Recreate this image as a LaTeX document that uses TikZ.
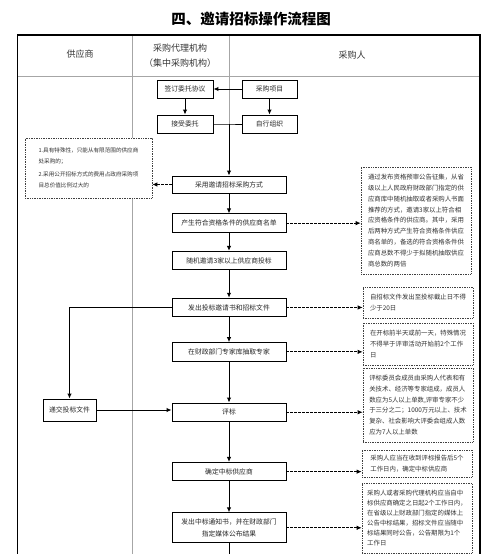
\documentclass[tikz,border=0pt]{standalone}
\usepackage{fontspec}
\setmainfont{Noto Sans CJK SC}
\usetikzlibrary{positioning}
\usetikzlibrary{arrows.meta}
\usetikzlibrary{calc}
\tikzset{%
	% Specifications for style of nodes:
	base/.style = {rectangle, draw=black, line width=0.9pt, fill=white,
		inner sep=2pt, text centered, text=black!85,
		font=\fontsize{6.8pt}{11.5pt}\selectfont},
	small/.style = {base, minimum width=56pt, minimum height=18pt},
	process/.style = {base, minimum width=114pt, minimum height=18.5pt},
	note/.style = {rectangle, draw=black!75, densely dotted, line width=0.7pt,
		fill=white, inner sep=3pt, align=left, minimum width=110pt,
		text=black!80, font=\fontsize{6.4pt}{10.8pt}\selectfont},
	head/.style = {font=\fontsize{9pt}{15pt}\selectfont, text=black!80},
	lane/.style = {draw=black!35, line width=0.8pt},
	frame/.style = {draw=black, line width=1.8pt},
	flow/.style = {->, line width=1pt},
	hint/.style = {->, dash pattern=on 2.5pt off 1.5pt, line width=0.8pt}
}
\begin{document}
\begin{tikzpicture}[x=1pt, y=-1pt, >={Latex[length=5pt,width=4.5pt]}, align=center]
		\clip (0,0) rectangle (500,554);
		\node (title) [font=\fontsize{14.5pt}{16pt}\selectfont\bfseries] at (251,18.5) {四、邀请招标操作流程图};
		% lanes and header
		\draw[lane] (17.5,76) -- (480,76);
		\draw[lane] (132,35) -- (132,560);
		\draw[lane] (229,35) -- (229,124);
		\draw[frame] (17.5,560) |- (480,35) -- (480,560);
		\node (supplierHead) [head] at (80,54) {供应商};
		\node (agentHead) [head] at (180,55.5) {采购代理机构\\（集中采购机构）};
		\node (buyerHead) [head] at (352,55) {采购人};
		% top boxes
		\node (project) [small, minimum width=55pt] at (269.5,89) {采购项目};
		\node (sign) [small] at (185,89) {签订委托协议};
		\node (accept) [small] at (185,124) {接受委托};
		\node (selfOrg) [small, minimum width=55pt] at (269.5,124) {自行组织};
		\coordinate (join) at (229,124);
		\draw[flow] (project) -- (sign);
		\draw[flow] (sign) -- (accept);
		\draw[flow] (project) -- (selfOrg);
		\draw[line width=1pt] (accept) -- (join) -- (selfOrg);
		% main column
		\node (method) [process, minimum height=17pt] at (229,184.5) {采用邀请招标采购方式};
		\node (list) [process, below=20pt of method] {产生符合资格条件的供应商名单};
		\node (invite) [process, below=18pt of list] {随机邀请3家以上供应商投标};
		\node (issue) [process, below=27.5pt of invite] {发出投标邀请书和招标文件};
		\node (expert) [process, below=25pt of issue] {在财政部门专家库抽取专家};
		\node (review) [process, below=41pt of expert] {评标};
		\node (decide) [process, below=40pt of review] {确定中标供应商};
		\node (notice) [process, minimum height=30pt, below=31pt of decide] {发出中标通知书，并在财政部门\\指定媒体公布结果};
		\coordinate (pageEnd) at (229,560);
		\draw[flow] (join) -- (method);
		\draw[flow] (method) -- (list);
		\draw[flow] (list) -- (invite);
		\draw[flow] (invite) -- (issue);
		\draw[flow] (issue) -- (expert);
		\draw[flow] (expert) -- (review);
		\draw[flow] (review) -- (decide);
		\draw[flow] (decide) -- (notice);
		\draw[line width=1pt] (notice) -- (pageEnd);
		% supplier side
		\node (submit) [small, minimum width=53pt, minimum height=22pt] at (69.5,410) {递交投标文件};
		\draw[flow] (issue.west) -| (submit.north);
		\draw[flow] (submit.east) -- (submit.east -| review.west);
		% notes
		\node (whyNote) [note, minimum width=127pt, minimum height=60pt, font=\fontsize{5.6pt}{11pt}\selectfont] at (88.5,168) {1.具有特殊性，只能从有限范围的供应商\\处采购的；\\[2pt]2.采用公开招标方式的费用占政府采购项\\目总价值比例过大的};
		\node (poolNote) [note, minimum height=107pt] at (416,220.5) {通过发布资格预审公告征集，从省\\级以上人民政府财政部门指定的供\\应商库中随机抽取或者采购人书面\\推荐的方式，邀请3家以上符合相\\应资格条件的供应商。其中，采用\\后两种方式产生符合资格条件供应\\商名单的，备选的符合资格条件供\\应商总数不得少于拟随机抽取供应\\商总数的两倍};
		\node (docNote) [note, minimum height=31pt] at (418,302.5) {自招标文件发出至投标截止日不得\\少于20日};
		\node (expertNote) [note, minimum height=42pt] at (418,344) {在开标前半天或前一天，特殊情况\\不得早于评审活动开始前2个工作\\日};
		\node (panelNote) [note, minimum height=74pt] at (418,405) {评标委员会成员由采购人代表和有\\关技术、经济等专家组成，成员人\\数应为5人以上单数,评审专家不少\\于三分之二；1000万元以上、技术\\复杂、社会影响大评委会组成人数\\应为7人以上单数};
		\node (decideNote) [note, minimum height=27pt] at (417,463.5) {采购人应当在收到评标报告后5个\\工作日内，确定中标供应商};
		\node (publishNote) [note, minimum height=70pt, font=\fontsize{6.4pt}{10pt}\selectfont] at (417,518) {采购人或者采购代理机构应当自中\\标供应商确定之日起2个工作日内，\\在省级以上财政部门指定的媒体上\\公告中标结果，招标文件应当随中\\标结果同时公告，公告期限为1个\\工作日};
		\draw[hint] (method.west) -- (method.west -| whyNote.east);
		\draw[hint] (list.east) -- (list.east -| poolNote.west);
		\draw[hint] (issue.east) -- (issue.east -| docNote.west);
		\draw[hint] (expert.east) -- (expert.east -| expertNote.west);
		\draw[hint] (review.east) -- (review.east -| panelNote.west);
		\draw[hint] (decide.east) -- (decide.east -| decideNote.west);
		\draw[hint] (notice.east) -- (notice.east -| publishNote.west);
	\end{tikzpicture}
\end{document}
